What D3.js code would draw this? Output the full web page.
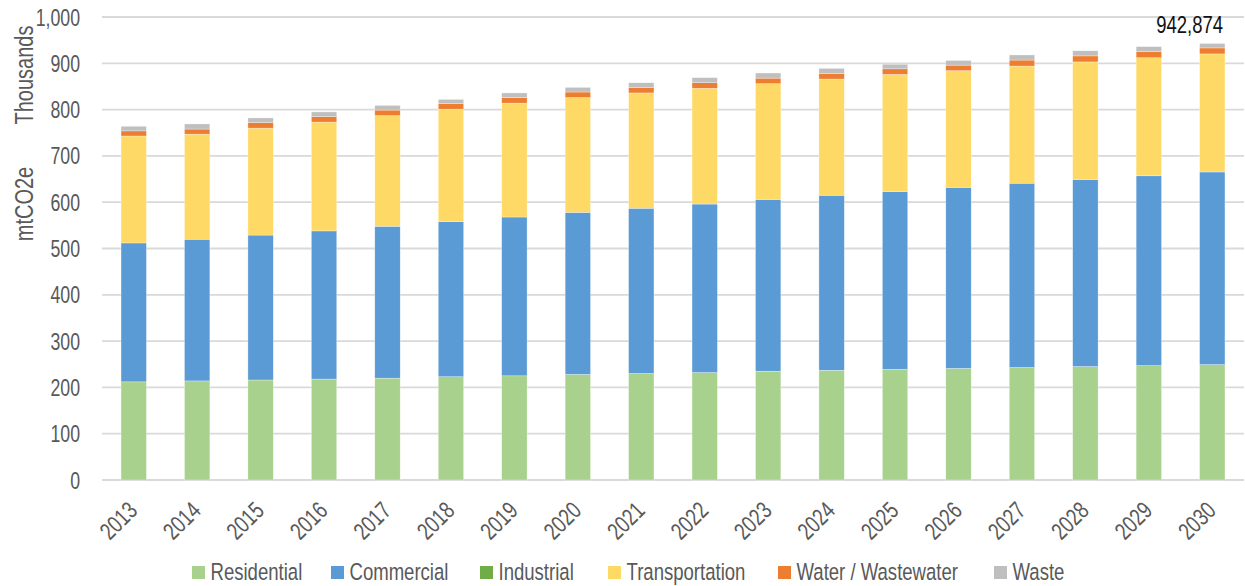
<!DOCTYPE html>
<html><head><meta charset="utf-8">
<script src="https://cdn.jsdelivr.net/npm/d3@7"></script>
<style>
body{margin:0;background:#fff;}
text{font-family:"Liberation Sans",Arial,sans-serif;}
</style></head>
<body><svg id="c" width="1245" height="586"></svg>
<script>
const years = ["2013","2014","2015","2016","2017","2018","2019","2020","2021","2022","2023","2024","2025","2026","2027","2028","2029","2030"];
const residential    = [212,214,216,218,220,223,225,228,230,232,235,237,239,241,243,245,247,249.2];
const commercial     = [300,306,313,320,328,335,343,350,357,364,371,378,384,391,398,404,410,416.1];
const industrial     = [0,0,0,0,0,0,0,0,0,0,0,0,0,0,0,0,0,0];
const transportation = [231,227,231,235,239,243,246,248,249,250,250,251,253,252,253,254,255,255.0];
const water          = [11,11,12,12,12,12,12,12,12,12,12,12,12,12,13,13,13,12.9];
const waste          = [10,11,10,10,10,9,10,10,10,11,11,11,10,10,11,11,11,9.674];
const seriesNames = ["Residential","Commercial","Industrial","Transportation","Water / Wastewater","Waste"];
const seriesColors = ["#A9D18E","#5B9BD5","#70AD47","#FFD966","#ED7D31","#BFBFBF"];
const yTicks = [0,100,200,300,400,500,600,700,800,900,1000];

const seriesVals = [residential,commercial,industrial,transportation,water,waste];
const table = years.map((y,i)=>{const o={year:y}; seriesNames.forEach((n,k)=>o[n]=seriesVals[k][i]); return o;});
const stacked = d3.stack().keys(seriesNames)(table);

const svg = d3.select("#c");
const pLeft=102, pRight=1244, pTop=17, pBottom=480;
const SX = 0.77; // narrow-font emulation
const x = d3.scaleBand().domain(years).range([pLeft,pRight]).paddingInner(0.6).paddingOuter(0.3);
const y = d3.scaleLinear().domain([0,1000]).range([pBottom,pTop]);
const fmt = d3.format(",");
const txt = "#595959";

// gridlines
svg.append("g").selectAll("line").data(yTicks).join("line")
  .attr("x1",pLeft).attr("x2",pRight).attr("y1",d=>y(d)).attr("y2",d=>y(d))
  .attr("stroke","#D9D9D9").attr("stroke-width",1.8);

// y axis labels
const yAxis = svg.append("g").attr("transform",`translate(80,0)`)
  .call(d3.axisLeft(y).tickValues(yTicks).tickFormat(fmt).tickSize(0).tickPadding(0));
yAxis.select(".domain").remove();
yAxis.selectAll("text").attr("x",0).attr("dy",null).attr("font-size",23).attr("fill",txt)
  .attr("font-family",'"Liberation Sans",Arial,sans-serif')
  .attr("text-anchor","end").attr("transform",`translate(0,8) scale(${SX},1)`);

// bars
const colorOf = d3.scaleOrdinal().domain(seriesNames).range(seriesColors);
svg.append("g").selectAll("g").data(stacked).join("g").attr("fill",d=>colorOf(d.key))
  .selectAll("rect").data(d=>d).join("rect")
  .attr("x",d=>x(d.data.year)).attr("width",x.bandwidth())
  .attr("y",d=>y(d[1])).attr("height",d=>Math.max(0,y(d[0])-y(d[1])))
  .attr("stroke","#fff").attr("stroke-width",0.5).attr("stroke-opacity",0.6);

// x axis labels
const xAxis = svg.append("g").attr("transform",`translate(0,${pBottom})`)
  .call(d3.axisBottom(x).tickSize(0).tickPadding(0));
xAxis.select(".domain").remove();
xAxis.selectAll("text").attr("y",0).attr("dy",null).attr("font-size",24).attr("fill",txt)
  .attr("font-family",'"Liberation Sans",Arial,sans-serif')
  .attr("text-anchor","end")
  .attr("transform",`translate(5,32) rotate(-45) scale(${SX},1)`);

// total label on last bar
const lastYear = years[years.length-1];
const lastTotal = stacked[stacked.length-1][years.length-1][1];
svg.append("text")
  .attr("transform",`translate(${x(lastYear)+x.bandwidth()-2},${y(lastTotal)-10.5}) scale(${SX},1)`)
  .attr("text-anchor","end").attr("font-size",24).attr("fill","#111")
  .text(fmt(Math.round(lastTotal*1000)));

// y title
svg.append("text").attr("transform",`translate(33,75) rotate(-90) scale(${SX},1)`).attr("text-anchor","middle")
  .attr("font-size",26).attr("fill",txt).text("Thousands");
svg.append("text").attr("transform",`translate(33,204) rotate(-90) scale(${SX},1)`).attr("text-anchor","middle")
  .attr("font-size",26).attr("fill",txt).text("mtCO2e");

// legend
const legX = [192,331,480,608,778,994];
const leg = svg.append("g").selectAll("g").data(seriesNames).join("g")
  .attr("transform",(d,i)=>`translate(${legX[i]},566)`);
leg.append("rect").attr("width",13).attr("height",13).attr("fill",d=>colorOf(d));
leg.append("text").attr("transform",`translate(18.5,14) scale(0.79,1)`)
  .attr("font-size",23.5).attr("fill",txt).text(d=>d);
</script></body></html>
